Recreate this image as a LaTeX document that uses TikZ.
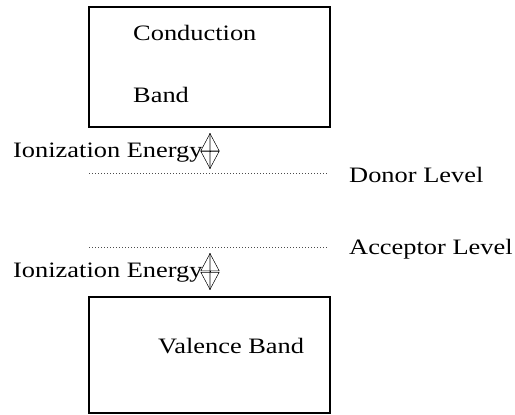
\documentclass[tikz,border=0pt]{standalone}
\usepackage{fontspec}
\setmainfont{Liberation Serif}[FakeStretch=1.2]
\usetikzlibrary{arrows.meta}

\begin{document}
\begin{tikzpicture}[x=1pt, y=-1pt, every node/.style={font=\fontsize{22}{26}\selectfont, inner sep=0pt, anchor=base west},
	band/.style={draw, line width=2pt, anchor=center},
	lvl/.style={black!70, line width=1pt, dash pattern=on 1pt off 2pt},
	ion/.style={black, line width=0.5pt, {Triangle[open, length=18pt, width=19pt]}-{Triangle[open, length=18pt, width=19pt]}},
	shaft/.style={gray!70, line width=1.2pt}]
	\useasboundingbox (0,0) rectangle (515,415);
	\node[band, minimum width=241pt, minimum height=120pt] (CB) at (209.5,66.5) {};
	\node[band, minimum width=241pt, minimum height=116pt] (VB) at (209.5,355) {};
	\node (c1) at (133,40) {Conduction};
	\node (c2) at (133,102) {Band};
	\node (v1) at (158,353) {Valence Band};
	% donor and acceptor levels
	\coordinate (d1) at (89,173);
	\coordinate (d2) at (327,173);
	\coordinate (a1) at (89,247);
	\coordinate (a2) at (327,247);
	\draw[lvl] (d1) -- (d2);
	\draw[lvl] (a1) -- (a2);
	\node (dl) at (349,182) {Donor Level};
	\node (al) at (349,254) {Acceptor Level};
	% ionization energies
	\node (ie1) at (13,157) {Ionization Energy};
	\node (ie2) at (13,277) {Ionization Energy};
	\coordinate (t1) at (210,133);
	\coordinate (b1) at (210,169);
	\coordinate (t2) at (210,253);
	\coordinate (b2) at (210,290);
	\draw[shaft] (t1) -- (b1);
	\draw[shaft] (t2) -- (b2);
	\draw[ion] (t1) -- (b1);
	\draw[ion] (t2) -- (b2);
\end{tikzpicture}
\end{document}
